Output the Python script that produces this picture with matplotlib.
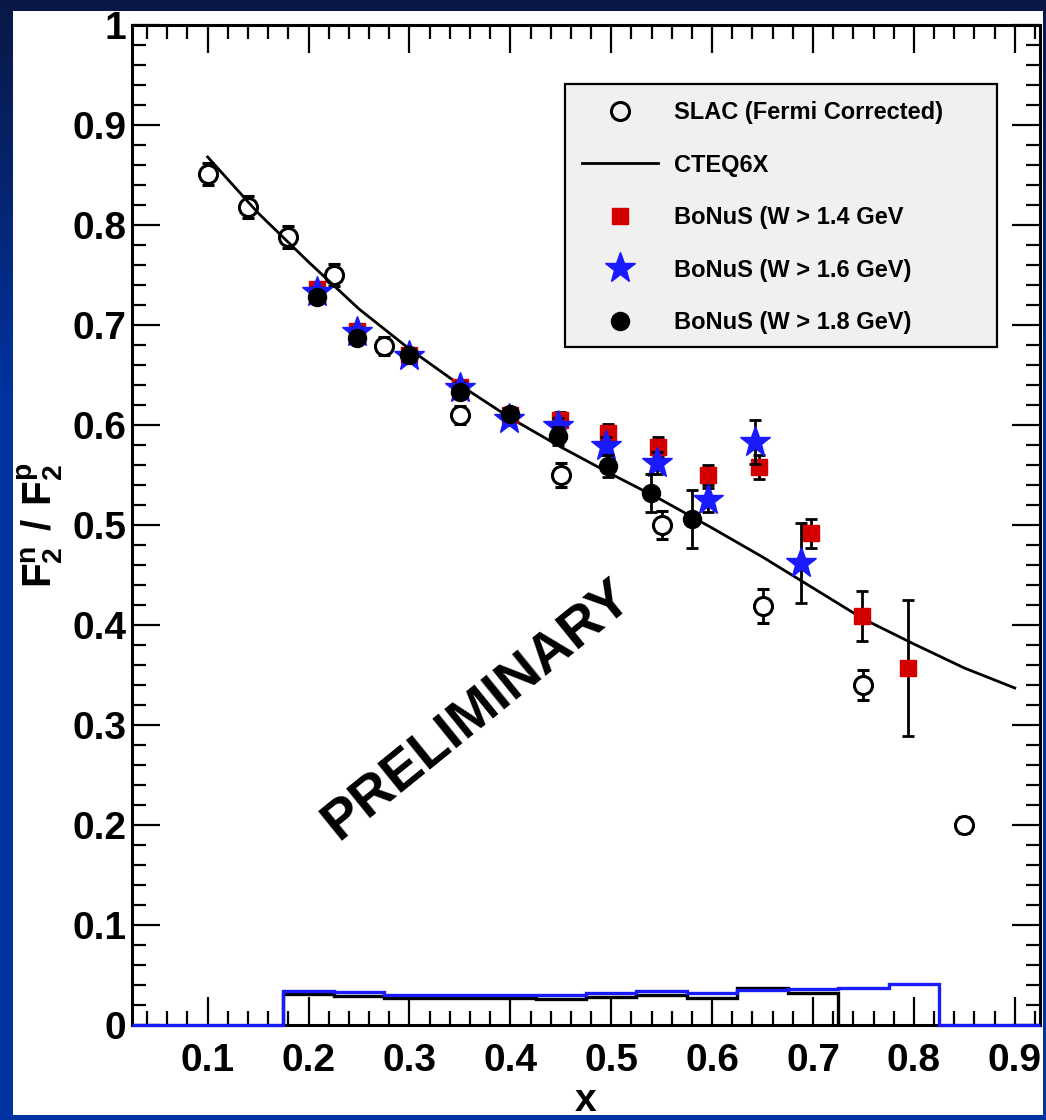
import numpy as np
import matplotlib
matplotlib.use("Agg")
import matplotlib.pyplot as plt
from matplotlib.ticker import MultipleLocator, FuncFormatter
from matplotlib.patches import Rectangle
from matplotlib.lines import Line2D

plt.rcParams["font.family"] = ["Liberation Sans", "DejaVu Sans"]
plt.rcParams["font.weight"] = "bold"
plt.rcParams["mathtext.fontset"] = "custom"
plt.rcParams["mathtext.bf"] = "Liberation Sans:bold"
plt.rcParams["mathtext.rm"] = "Liberation Sans:bold"

# SLAC (Fermi corrected)
slac_x = [0.10, 0.14, 0.18, 0.225, 0.275, 0.35, 0.45, 0.55, 0.65, 0.75, 0.85]
slac_y = [0.851, 0.818, 0.788, 0.750, 0.679, 0.610, 0.550, 0.500, 0.419, 0.340, 0.200]
slac_err = [0.011, 0.011, 0.011, 0.011, 0.009, 0.009, 0.012, 0.014, 0.017, 0.015, 0.008]

# CTEQ6X prediction
cteq_x = [0.10, 0.15, 0.20, 0.25, 0.30, 0.35, 0.40, 0.45, 0.50, 0.55,
          0.60, 0.65, 0.70, 0.75, 0.80, 0.85, 0.90]
cteq_y = [0.868, 0.812, 0.763, 0.716, 0.676, 0.640, 0.607, 0.578, 0.551, 0.525,
          0.497, 0.468, 0.437, 0.406, 0.381, 0.357, 0.337]

# BoNuS, W > 1.4 GeV
w14_x = [0.208, 0.248, 0.300, 0.350, 0.400, 0.449, 0.497, 0.546, 0.596, 0.646, 0.698, 0.749, 0.794]
w14_y = [0.736, 0.694, 0.670, 0.638, 0.610, 0.605, 0.592, 0.578, 0.550, 0.558, 0.492, 0.409, 0.357]
w14_err = [0.006, 0.006, 0.006, 0.006, 0.007, 0.008, 0.009, 0.010, 0.010, 0.012, 0.0145, 0.025, 0.068]

# BoNuS, W > 1.6 GeV
w16_x = [0.208, 0.248, 0.300, 0.350, 0.399, 0.447, 0.495, 0.545, 0.596, 0.643, 0.688]
w16_y = [0.733, 0.693, 0.669, 0.637, 0.606, 0.599, 0.579, 0.562, 0.525, 0.583, 0.462]
w16_err = [0.005, 0.005, 0.005, 0.006, 0.006, 0.008, 0.009, 0.011, 0.012, 0.022, 0.040]

# BoNuS, W > 1.8 GeV
w18_x = [0.208, 0.248, 0.300, 0.350, 0.400, 0.447, 0.497, 0.539, 0.580]
w18_y = [0.728, 0.687, 0.670, 0.633, 0.611, 0.589, 0.559, 0.532, 0.506]
w18_err = [0.005, 0.005, 0.005, 0.006, 0.006, 0.009, 0.011, 0.019, 0.029]

# Systematic uncertainty bands (bin edges and contents)
sys_edges = [0.175, 0.225, 0.275, 0.325, 0.375, 0.425, 0.475, 0.525,
             0.575, 0.625, 0.675, 0.725, 0.775, 0.825]
sys_blue = [0.034, 0.033, 0.030, 0.030, 0.030, 0.030, 0.032, 0.034,
            0.032, 0.035, 0.036, 0.037, 0.041]
sys_black = [0.031, 0.029, 0.027, 0.027, 0.027, 0.026, 0.028, 0.030,
             0.027, 0.037, 0.032]

x_range = (0.025, 0.925)
y_range = (0.0, 1.0)

W, H = 1046, 1120
fig = plt.figure(figsize=(W / 100, H / 100), dpi=100)

# Background: blue gradient frame with white panel
bg = fig.add_axes([0, 0, 1, 1], zorder=-10)
bg.set_xlim(0, 1)
bg.set_ylim(0, 1)
bg.axis("off")
top_col = np.array([0x0a, 0x18, 0x45]) / 255
mid_col = np.array([0x00, 0x33, 0xa0]) / 255
t = np.linspace(0, 1, 300)[:, None]
ramp = np.clip(t / 0.35, 0, 1)
grad = top_col * (1 - ramp) + mid_col * ramp
bg.imshow(grad[:, None, :], extent=[0, 1, 0, 1], aspect="auto", origin="upper")
bg.add_patch(Rectangle((13 / W, 1 - 1115 / H), (1043 - 13) / W, (1115 - 11) / H,
                       facecolor="white", edgecolor="none"))

ax = fig.add_axes([132 / W, 1 - 1025 / H, (1040 - 132) / W, (1025 - 25) / H])
ax.set_facecolor("white")

# Systematic error histograms
ax.stairs(sys_black, sys_edges[:len(sys_black) + 1], color="black", lw=2.4,
          baseline=0, zorder=2, clip_on=False)
blue_vals = [0.0] + sys_blue + [0.0]
blue_edges = [x_range[0]] + sys_edges + [x_range[1]]
ax.stairs(blue_vals, blue_edges, color="#1a1aff", lw=2.4, baseline=None,
          zorder=3, clip_on=False)

# SLAC open circles
ax.errorbar(slac_x, slac_y, yerr=slac_err, fmt="o", ms=13, mfc="white", mec="black",
            mew=2.2, ecolor="black", elinewidth=2, capsize=4, capthick=2, zorder=4)

# CTEQ6X curve
ax.plot(cteq_x, cteq_y, color="black", lw=2, zorder=5)

# BoNuS points
ax.errorbar(w14_x, w14_y, yerr=w14_err, fmt="s", ms=12, mfc="#d40000", mec="#d40000",
            ecolor="black", elinewidth=2, capsize=4, capthick=2, zorder=6)
ax.errorbar(w16_x, w16_y, yerr=w16_err, fmt="*", ms=23, mfc="#1a1aff", mec="#1a1aff",
            ecolor="black", elinewidth=2, capsize=4, capthick=2, zorder=7)
ax.errorbar(w18_x, w18_y, yerr=w18_err, fmt="o", ms=13, mfc="black", mec="black",
            ecolor="black", elinewidth=2, capsize=4, capthick=2, zorder=8)

ax.text(0.367, 0.315, "PRELIMINARY", fontsize=40, fontweight="bold", rotation=39,
        ha="center", va="center", rotation_mode="anchor", zorder=9)

ax.set_xlim(*x_range)
ax.set_ylim(*y_range)
ax.xaxis.set_major_locator(MultipleLocator(0.1))
ax.xaxis.set_minor_locator(MultipleLocator(0.02))
ax.yaxis.set_major_locator(MultipleLocator(0.1))
ax.yaxis.set_minor_locator(MultipleLocator(0.02))
fmt = FuncFormatter(lambda v, p: f"{round(v, 2):g}")
ax.xaxis.set_major_formatter(fmt)
ax.yaxis.set_major_formatter(fmt)
ax.tick_params(which="both", direction="in", top=True, right=True, width=1.6,
               labelsize=28)
ax.tick_params(which="major", length=20)
ax.tick_params(which="minor", length=10)
ax.tick_params(axis="x", pad=13)
ax.tick_params(axis="y", pad=4)
for lab in ax.get_xticklabels() + ax.get_yticklabels():
    lab.set_fontweight("bold")
for sp in ax.spines.values():
    sp.set_linewidth(2.2)

fig.text(40 / W, 1 - 525 / H, r"$\mathbf{F_{2}^{n}\ /\ F_{2}^{p}}$", fontsize=29,
         rotation=90, ha="center", va="center")
fig.text(586 / W, 1 - 1101 / H, "x", fontsize=28, fontweight="bold",
         ha="center", va="center")

# Legend: grey box plus unframed entries
ax.add_patch(Rectangle((565 / W, 1 - 347 / H), (997 - 565) / W, (347 - 84) / H,
                       transform=fig.transFigure, facecolor="#f0f0f0",
                       edgecolor="black", lw=1.6, zorder=19, clip_on=False))
handles = [
    Line2D([], [], ls="none", marker="o", ms=13, mfc="none", mec="black", mew=2.2),
    Line2D([], [], color="black", lw=2),
    Line2D([], [], ls="none", marker="s", ms=12, mfc="#d40000", mec="#d40000"),
    Line2D([], [], ls="none", marker="*", ms=23, mfc="#1a1aff", mec="#1a1aff"),
    Line2D([], [], ls="none", marker="o", ms=13, mfc="black", mec="black"),
]
labels = ["SLAC (Fermi Corrected)", "CTEQ6X", "BoNuS (W > 1.4 GeV",
          "BoNuS (W > 1.6 GeV)", "BoNuS (W > 1.8 GeV)"]
leg = ax.legend(handles, labels, loc="upper left",
                bbox_to_anchor=(582 / W, 1 - 101 / H),
                bbox_transform=fig.transFigure, fontsize=17,
                labelspacing=1.25, borderpad=0, borderaxespad=0,
                handlelength=3.2, handletextpad=0.7, frameon=False)
leg.set_zorder(20)
for txt in leg.get_texts():
    txt.set_fontweight("bold")

fig.savefig("out.png", dpi=100)
